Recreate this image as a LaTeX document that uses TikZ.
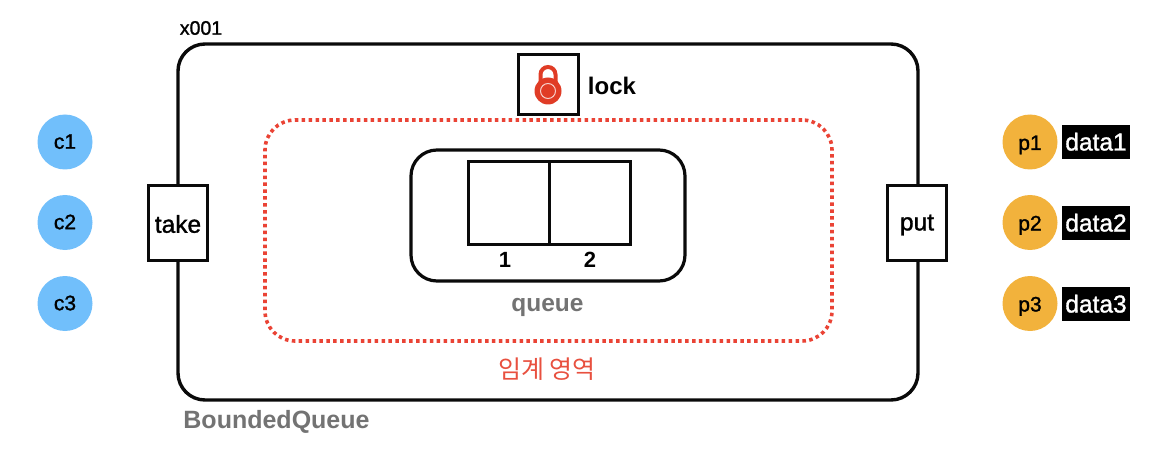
\documentclass[tikz,border=0pt]{standalone}
\usepackage{fontspec}
\setmainfont{Liberation Sans}
\newfontfamily\medf[FakeBold=1.3]{Liberation Sans}
\newfontfamily\boldf{Liberation Sans Bold}
\newfontfamily\krf{Noto Sans CJK KR}
\definecolor{linek}{HTML}{0A0A0A}
\definecolor{bluec}{HTML}{71BFFB}
\definecolor{orangep}{HTML}{F2B23C}
\definecolor{redd}{HTML}{EA4335}
\definecolor{redt}{HTML}{E8503F}
\definecolor{greyt}{HTML}{737373}
\definecolor{lockr}{HTML}{E03C26}
\tikzset{
  every node/.style={inner sep=0pt,outer sep=0pt,align=center},
  outerbox/.style={draw=linek,line width=3.4pt,rounded corners=27pt,minimum width=740pt,minimum height=356pt},
  portbox/.style={draw=linek,fill=white,line width=3pt,minimum width=59pt,minimum height=75pt},
  lockbox/.style={draw=linek,fill=white,line width=3.8pt,minimum width=60pt,minimum height=60pt},
  critbox/.style={draw=redd,line width=3.6pt,dash pattern=on 3.5pt off 3.4pt,rounded corners=30pt,minimum width=567pt,minimum height=221pt},
  qbox/.style={draw=linek,line width=3.2pt,rounded corners=26pt,minimum width=274pt,minimum height=131pt},
  cellbox/.style={draw=linek,line width=3pt,minimum width=81.5pt,minimum height=82pt},
  cons/.style={circle,fill=bluec,minimum size=55pt,font=\medf\fontsize{21}{21}\selectfont,text height=13.5pt,text depth=0pt},
  prod/.style={circle,fill=orangep,minimum size=55pt,font=\medf\fontsize{21}{21}\selectfont,text height=16pt,text depth=0pt},
  databox/.style={fill=black,text=white,minimum width=68pt,minimum height=34pt,font=\medf\fontsize{24.5}{24.5}\selectfont,text height=17pt,text depth=0pt},
  lbl/.style={font=\boldf\fontsize{24}{24}\selectfont,text=black},
  plain/.style={font=\medf\fontsize{24.5}{24.5}\selectfont,text=black},
}
\begin{document}
\begin{tikzpicture}[x=1pt,y=-1pt]
\useasboundingbox (0,0) rectangle (1168,476);
\node[outerbox] (outer) at (548,222) {};
\node[portbox] (take) at (178,223) {}; 
\node[plain] (takelbl) at (178,224) {take};
\node[portbox] (put) at (917,223) {};
\node[plain] (putlbl) at (917,225) {put};
\node[lockbox] (lockb) at (548.5,84.5) {};
\draw[lockr,line width=4pt] (540.5,85) -- (540.5,74.5) arc[start angle=180,delta angle=180,radius=7.5] -- (555.5,85);
\node[circle,fill=lockr,minimum size=27pt] (lockbody) at (548,91) {};
\node[circle,draw=white!75!lockr,line width=1pt,minimum size=15pt] (lockring) at (548,91) {};
\node[lbl] (locklbl) at (612,86) {lock};
\node[critbox] (crit) at (548.5,230.5) {};
\node[qbox] (qb) at (548,215.5) {};
\node[cellbox] (cell1) at (509,203) {};
\node[cellbox] (cell2) at (590,203) {};
\node[font=\boldf\fontsize{22}{22}\selectfont] (n1) at (505,260) {1};
\node[font=\boldf\fontsize{22}{22}\selectfont] (n2) at (590,260) {2};
\node[lbl,font=\boldf\fontsize{24.5}{24.5}\selectfont,text=greyt] (qlbl) at (547.5,307) {queue};
\node[font=\krf\fontsize{25}{25}\selectfont,text=redt] (critlbl) at (547,369) {임계 영역};
\node[lbl,font=\boldf\fontsize{25}{25}\selectfont,text=greyt] (bq) at (276.5,422) {BoundedQueue};
\node[font=\medf\fontsize{19.5}{19.5}\selectfont] (x001) at (201,28) {x001};
\node[cons] (c1) at (65,142) {c1};
\node[cons] (c2) at (65,222.5) {c2};
\node[cons] (c3) at (65,303.5) {c3};
\node[prod] (p1) at (1030,142) {p1};
\node[prod] (p2) at (1030,222.5) {p2};
\node[prod] (p3) at (1030,303.5) {p3};
\node[databox] (d1) at (1096,142) {data1};
\node[databox] (d2) at (1096,223) {data2};
\node[databox] (d3) at (1096,304) {data3};
\end{tikzpicture}
\end{document}
